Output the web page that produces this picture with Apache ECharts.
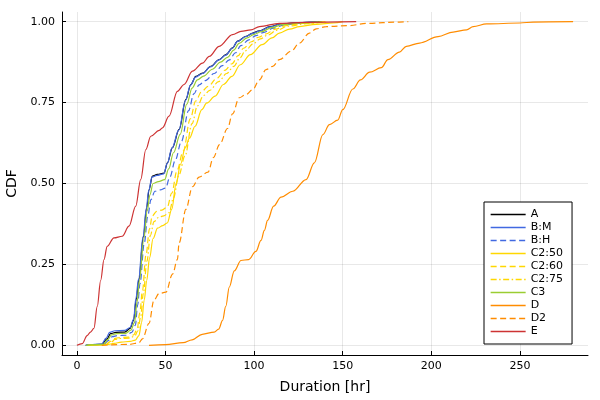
<!DOCTYPE html>
<html>
<head>
<meta charset="utf-8">
<script src="https://cdn.jsdelivr.net/npm/echarts@6/dist/echarts.min.js"></script>
<style>
  html, body { margin: 0; padding: 0; background: #fff; }
  #chart { width: 600px; height: 400px; }
</style>
</head>
<body>
<div id="chart"></div>
<script>
// duration [hr] / cumulative fraction
const aX = [5, 14, 17, 19, 22, 27, 30, 32, 33.5, 35, 37.5, 39.4, 40.7, 42.6, 45.4, 49.2, 51.1, 53.9, 57.7, 61.5, 64.3, 67.1, 70.9, 75.6, 80.3, 84.1, 87.8, 90.7, 95.4, 99.2, 103, 109, 115, 125, 137]
const aY = [0, 0.003, 0.02, 0.036, 0.04, 0.041, 0.052, 0.077, 0.142, 0.204, 0.335, 0.425, 0.48, 0.523, 0.528, 0.532, 0.564, 0.611, 0.667, 0.76, 0.806, 0.831, 0.841, 0.862, 0.883, 0.898, 0.919, 0.94, 0.955, 0.965, 0.972, 0.985, 0.993, 0.997, 1.0]

const bmX = [5, 14, 16.5, 18.5, 21.5, 27, 30, 32, 33.3, 34.8, 37.3, 39.2, 40.5, 42.4, 45.2, 49, 51, 53.7, 57.5, 61.3, 64.1, 67, 70.8, 75.5, 80.2, 84, 87.7, 90.6, 95.3, 99.1, 103, 109, 115, 125, 136]
const bmY = [0, 0.004, 0.022, 0.04, 0.045, 0.046, 0.055, 0.08, 0.145, 0.205, 0.335, 0.424, 0.478, 0.52, 0.525, 0.53, 0.562, 0.61, 0.665, 0.757, 0.804, 0.829, 0.84, 0.861, 0.882, 0.897, 0.918, 0.939, 0.954, 0.964, 0.971, 0.984, 0.993, 0.997, 1.0]

const bhX = [5, 15, 18, 20, 23, 28, 31, 33, 34.3, 35.6, 38, 40, 41.8, 44, 47, 50, 52.5, 55.5, 59, 63, 66, 69, 72.5, 77.5, 82, 86, 89.5, 92.5, 97, 101, 105, 111, 117, 127, 139]
const bhY = [0, 0.003, 0.015, 0.027, 0.03, 0.031, 0.04, 0.062, 0.125, 0.19, 0.315, 0.4, 0.45, 0.476, 0.48, 0.486, 0.52, 0.572, 0.63, 0.725, 0.777, 0.805, 0.818, 0.84, 0.864, 0.882, 0.904, 0.926, 0.944, 0.957, 0.966, 0.98, 0.99, 0.996, 1.0]

const c50X = [7, 17, 21, 25, 30, 33, 35, 36.5, 38, 39.4, 41, 43, 45.5, 48.5, 51, 53.5, 56, 58.5, 61.1, 63.5, 66.7, 70.5, 73.3, 78, 82.7, 87.5, 92.2, 97.9, 104.5, 110.1, 114.3, 120, 125.6, 135, 145, 150]
const c50Y = [0, 0.002, 0.006, 0.01, 0.012, 0.016, 0.03, 0.07, 0.14, 0.2, 0.27, 0.33, 0.362, 0.37, 0.378, 0.42, 0.5, 0.56, 0.61, 0.64, 0.677, 0.728, 0.749, 0.77, 0.806, 0.831, 0.867, 0.898, 0.929, 0.95, 0.965, 0.977, 0.985, 0.992, 0.996, 1.0]

const c60X = [6, 16, 19, 21, 24, 29, 32, 34, 35.5, 37, 39, 41, 42.5, 45, 48, 51, 53.5, 56.5, 60, 64, 67, 70.5, 74, 79, 83.5, 87.5, 91, 94, 98.5, 102.5, 106.5, 112, 118, 128, 140]
const c60Y = [0, 0.002, 0.012, 0.021, 0.024, 0.025, 0.032, 0.05, 0.1, 0.17, 0.28, 0.36, 0.4, 0.414, 0.418, 0.427, 0.47, 0.54, 0.6, 0.7, 0.755, 0.785, 0.8, 0.825, 0.85, 0.87, 0.895, 0.918, 0.938, 0.952, 0.962, 0.977, 0.988, 0.995, 1.0]

const c75X = [6, 16, 19.5, 21.5, 24.5, 29.5, 32.5, 34.5, 36, 37.5, 39.5, 41.5, 43.5, 46, 49, 52, 54.5, 57.5, 61, 65, 68, 71.5, 75, 80, 84.5, 88.5, 92, 95, 99.5, 103.5, 107.5, 113, 119, 130, 142]
const c75Y = [0, 0.002, 0.01, 0.018, 0.021, 0.022, 0.028, 0.045, 0.09, 0.16, 0.26, 0.34, 0.382, 0.395, 0.4, 0.41, 0.455, 0.525, 0.585, 0.685, 0.74, 0.772, 0.788, 0.815, 0.84, 0.862, 0.888, 0.91, 0.932, 0.947, 0.958, 0.974, 0.986, 0.994, 1.0]

const c3X = [5, 15, 17.5, 19.5, 22.5, 27.5, 30.5, 32.5, 34, 35.3, 37.8, 39.7, 41.2, 43, 46, 49.5, 51.8, 54.5, 58.3, 62, 65, 68, 71.5, 76.5, 81, 85, 88.5, 91.5, 96, 100, 104, 110, 116, 126, 138]
const c3Y = [0, 0.003, 0.018, 0.032, 0.036, 0.037, 0.047, 0.07, 0.135, 0.2, 0.33, 0.415, 0.465, 0.5, 0.506, 0.512, 0.545, 0.595, 0.652, 0.745, 0.795, 0.82, 0.832, 0.853, 0.875, 0.89, 0.912, 0.933, 0.95, 0.961, 0.969, 0.982, 0.991, 0.996, 1.0]

const dX = [40.7, 50, 60, 65, 70.7, 77.5, 80, 82.2, 84, 86, 88.8, 92.6, 96.9, 101, 103.9, 105.8, 107.6, 111, 115.2, 121.8, 129.3, 134, 138.8, 142.5, 147.2, 150, 155.7, 160, 165.2, 171.8, 175.5, 182, 185.9, 193.4, 203.8, 212.3, 219.9, 223.6, 231.2, 250, 257.5, 280]
const dY = [0, 0.002, 0.008, 0.017, 0.034, 0.041, 0.05, 0.077, 0.12, 0.18, 0.23, 0.262, 0.265, 0.29, 0.324, 0.355, 0.386, 0.43, 0.458, 0.476, 0.512, 0.564, 0.651, 0.682, 0.696, 0.728, 0.792, 0.82, 0.844, 0.858, 0.883, 0.906, 0.924, 0.934, 0.954, 0.968, 0.975, 0.985, 0.993, 0.996, 0.999, 1.0]

const d2X = [14, 30, 35, 37, 40.7, 43.5, 46.4, 50.2, 54, 56.7, 57.7, 61.5, 65.2, 69, 74, 77, 80.5, 85, 87.8, 91.6, 95.4, 99.2, 103, 106.7, 110.5, 114.3, 120.9, 125.6, 131.2, 135, 140.7, 153.8, 163.3, 182, 187]
const d2Y = [0, 0.003, 0.008, 0.02, 0.068, 0.14, 0.16, 0.164, 0.22, 0.265, 0.317, 0.42, 0.49, 0.52, 0.535, 0.58, 0.62, 0.67, 0.715, 0.765, 0.775, 0.79, 0.82, 0.852, 0.862, 0.883, 0.909, 0.934, 0.965, 0.978, 0.985, 0.988, 0.995, 0.999, 1.0]

const eX = [0, 3, 5.8, 7.7, 9.6, 11.5, 13.4, 15.3, 17.1, 20.9, 25.6, 29.4, 33.2, 36, 38.9, 41.7, 46.4, 48.3, 52, 56.7, 60.5, 65.2, 70.9, 74.7, 80.3, 87.8, 92.6, 98.2, 103, 114.3, 130, 157.6]
const eY = [0, 0.005, 0.03, 0.041, 0.052, 0.12, 0.2, 0.265, 0.306, 0.332, 0.337, 0.368, 0.43, 0.512, 0.605, 0.646, 0.664, 0.672, 0.708, 0.785, 0.806, 0.847, 0.872, 0.893, 0.924, 0.96, 0.97, 0.975, 0.985, 0.995, 0.998, 1.0]

const xTicks = [0, 50, 100, 150, 200, 250]
const yTicks = [0, 0.25, 0.5, 0.75, 1]

const DASH = [6, 3.5]
const DASHDOT = [6, 2.5, 1.5, 2.5]

function zip(xs, ys) {
  return xs.map((x, i) => [x, ys[i]])
}

function cdf(name, xs, ys, color, dash) {
  return {
    name: name,
    type: 'line',
    data: zip(xs, ys),
    symbol: 'none',
    showSymbol: false,
    smooth: 0.35,
    smoothMonotone: 'x',
    silent: true,
    animation: false,
    lineStyle: { color: color, width: 1.2, type: dash || 'solid' },
    itemStyle: { color: color },
  }
}

const chart = echarts.init(document.getElementById('chart'))

const axisFont = { fontFamily: 'DejaVu Sans', fontSize: 11, color: '#000' }

chart.setOption({
  backgroundColor: '#fff',
  animation: false,
  textStyle: { fontFamily: 'DejaVu Sans' },
  grid: { left: 62, right: 12, top: 12, bottom: 45, containLabel: false, outerBoundsMode: 'none' },
  xAxis: {
    type: 'value',
    min: -8.4,
    max: 288.4,
    name: 'Duration [hr]',
    nameLocation: 'middle',
    nameGap: 25,
    nameTextStyle: { fontFamily: 'DejaVu Sans', fontSize: 14, color: '#000' },
    axisLine: { show: true, onZero: false, lineStyle: { color: '#000', width: 1 } },
    axisTick: { show: true, inside: true, length: 4, customValues: xTicks, lineStyle: { color: '#000' } },
    axisLabel: Object.assign({ customValues: xTicks, margin: 6 }, axisFont),
    splitLine: { show: true, lineStyle: { color: 'rgba(0,0,0,0.09)', width: 1 } },
  },
  yAxis: {
    type: 'value',
    min: -0.03,
    max: 1.03,
    name: 'CDF',
    nameLocation: 'middle',
    nameGap: 43,
    nameTextStyle: { fontFamily: 'DejaVu Sans', fontSize: 14, color: '#000' },
    axisLine: { show: true, onZero: false, lineStyle: { color: '#000', width: 1 } },
    axisTick: { show: true, inside: true, length: 4, customValues: yTicks, lineStyle: { color: '#000' } },
    axisLabel: Object.assign({ customValues: yTicks, margin: 7, formatter: v => v.toFixed(2) }, axisFont),
    splitLine: { show: true, lineStyle: { color: 'rgba(0,0,0,0.09)', width: 1 } },
  },
  legend: {
    orient: 'vertical',
    left: 484,
    top: 202,
    itemWidth: 35,
    itemHeight: 11,
    itemGap: 2,
    padding: [7, 9, 7, 6],
    backgroundColor: '#fff',
    borderColor: '#000',
    borderWidth: 1,
    selectedMode: false,
    itemStyle: { opacity: 0 },
    lineStyle: { width: 1.3 },
    textStyle: { fontFamily: 'DejaVu Sans', fontSize: 11, color: '#000' },
  },
  series: [
    cdf('A', aX, aY, '#000000'),
    cdf('B:M', bmX, bmY, '#4169e1'),
    cdf('B:H', bhX, bhY, '#4169e1', DASH),
    cdf('C2:50', c50X, c50Y, '#ffd700'),
    cdf('C2:60', c60X, c60Y, '#ffd700', DASH),
    cdf('C2:75', c75X, c75Y, '#ffd700', DASHDOT),
    cdf('C3', c3X, c3Y, '#9acd32'),
    cdf('D', dX, dY, '#ff8c00'),
    cdf('D2', d2X, d2Y, '#ff8c00', DASH),
    cdf('E', eX, eY, '#cd3333'),
  ],
})
</script>
</body>
</html>
